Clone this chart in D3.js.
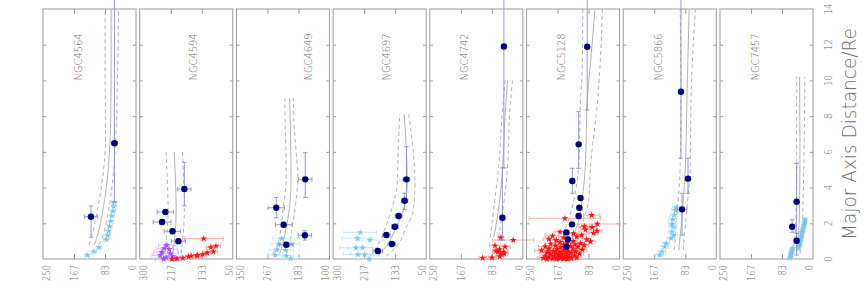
<!DOCTYPE html>
<html>
<head>
<meta charset="utf-8">
<script src="https://cdn.jsdelivr.net/npm/d3@7/dist/d3.min.js"></script>
<style>
  body { margin: 0; background: #fff; }
  svg { display: block; }
  text { font-family: "DejaVu Sans", sans-serif; font-weight: 200; fill: #6e6e6e; }
</style>
</head>
<body>
<script>
// galaxies, one panel each (figure is rotated: distance runs up, sigma runs right-to-left)
var names = ["NGC4564", "NGC4594", "NGC4649", "NGC4697", "NGC4742", "NGC5128", "NGC5866", "NGC7457"];
var sigmaHigh = [250, 300, 350, 300, 250, 250, 250, 250];
var sigmaLow  = [0, 50, 100, 50, 0, 0, 0, 0];
var sigmaLabels = [
  ["250", "167", "83", "0"], ["300", "217", "133", "50"], ["350", "267", "183", "100"], ["300", "217", "133", "50"],
  ["250", "167", "83", "0"], ["250", "167", "83", "0"], ["250", "167", "83", "0"], ["250", "167", "83", "0"]
];
var distTicks = [0, 2, 4, 6, 8, 10, 12, 14];
var distTitle = "Major Axis Distance/Re";

// PN bins: [distance, sigma, sigma error, distance low, distance high]
var pn4564 = [[2.37, 121, 18, 1.22, 2.97], [6.48, 58, 8, 3.2, 16]];
var pn4594 = [[3.92, 180, 18, 2.98, 5.41], [2.63, 231, 22, 2.5, 2.76], [2.07, 240, 24, 1.95, 2.2], [1.55, 212, 22, 1.42, 1.68], [1.0, 196, 19, 0.88, 1.12]];
var pn4649 = [[4.46, 165, 18, 3.45, 5.95], [2.87, 243, 22, 2.31, 3.45], [1.92, 223, 22, 1.8, 2.05], [1.33, 166, 18, 1.06, 1.58], [0.8, 216, 19, 0.68, 0.92]];
var pn4697 = [[4.46, 103, 9, 3.3, 6.29], [3.26, 108, 8, 2.78, 3.68], [2.41, 124, 9, 2.25, 2.56], [1.81, 134, 9, 1.68, 1.94], [1.34, 157, 10, 1.22, 1.46], [0.84, 142, 10, 0.72, 0.96], [0.45, 180, 13, 0.34, 0.56]];
var pn4742 = [[2.31, 55, 6, 1.06, 5.1], [11.9, 51, 6, 5.1, 16]];
var pn5128 = [[11.89, 87, 6, 8.34, 16], [6.42, 110, 6, 5.08, 8.25], [4.37, 127, 6, 3.68, 5.08], [3.42, 105, 6, 3.3, 3.55], [2.87, 108, 6, 2.75, 3.0],
              [2.41, 110, 6, 2.3, 2.52], [1.94, 128, 6, 1.82, 2.05], [1.49, 143, 6, 1.38, 1.6], [1.1, 139, 6, 0.98, 1.22], [0.69, 143, 6, 0.58, 0.8]];
var pn5866 = [[9.37, 95, 6, 5.64, 16], [4.5, 76, 6, 3.68, 5.64], [2.78, 92, 13, 1.34, 3.68]];
var pn7457 = [[3.21, 44, 5, 0.88, 5.36], [1.81, 56, 6, 1.5, 2.2], [1.02, 44, 5, 0.22, 1.44]];

// stellar long-slit kinematics (light blue): [distance, sigma, error]
var stars4564 = [[0.22, 131, 7], [0.41, 113, 7], [0.65, 100, 7], [1.08, 80, 7], [1.32, 76, 7], [1.56, 74, 7], [1.83, 71, 7], [2.12, 68, 7], [2.42, 65, 7], [2.68, 62, 7], [2.95, 60, 7], [3.18, 59, 7]];
var stars4649 = [[1.15, 228, 24], [0.85, 236, 22], [0.52, 241, 22], [0.5, 218, 22], [0.22, 246, 20], [0.18, 216, 20], [0.02, 204, 20], [0.84, 203, 22]];
var stars4697 = [[1.49, 227, 44], [1.16, 235, 40], [1.06, 201, 35], [0.63, 239, 44], [0.63, 221, 40], [0.26, 233, 40], [0.26, 215, 38], [0.0, 203, 35]];
var stars5866 = [[0.22, 152, 10], [0.41, 146, 10], [0.69, 139, 10], [0.88, 135, 10], [1.16, 122, 10], [1.34, 115, 10], [1.53, 119, 10], [1.81, 116, 10], [1.96, 119, 10], [2.22, 117, 10], [2.46, 113, 10], [2.74, 110, 10], [2.89, 108, 10]];
var stars7457 = [[0.05, 62, 4], [0.12, 61, 4], [0.2, 60, 4], [0.28, 59, 4], [0.36, 58, 4], [0.44, 57, 4], [0.52, 56, 4], [0.6, 55, 4],
                 [0.6, 40, 4], [0.7, 38, 4], [0.8, 36.5, 4], [0.9, 35.5, 4], [1.0, 35, 4], [1.1, 33, 4], [1.2, 32, 4], [1.3, 30.5, 4], [1.4, 30, 4],
                 [1.5, 29, 4], [1.6, 28, 4], [1.7, 27, 4], [1.8, 25.5, 4], [1.9, 24.5, 4], [2.0, 23, 4], [2.1, 22, 4], [2.2, 21.5, 4]];

// second stellar set in NGC4594 (purple): [distance, sigma, error]
var purple4594 = [[0.78, 227, 22], [0.6, 234, 22], [0.55, 221, 22], [0.38, 240, 22], [0.32, 218, 22], [0.2, 245, 22], [0.14, 211, 22], [0.08, 229, 22], [0.02, 205, 22], [0.0, 236, 22]];

// red stars: [distance, sigma, error]
var red4594 = [[1.14, 128, 52], [0.65, 109, 12], [0.73, 95, 12], [0.41, 102, 12], [0.35, 119, 10], [0.26, 131, 10], [0.22, 145, 10], [0.17, 146, 10],
               [0.17, 162, 8], [0.13, 169, 8], [0.06, 184, 8], [0.02, 200, 8], [0.0, 213, 8]];
var red4742 = [[1.19, 59, 8], [1.06, 26, 55], [0.75, 75, 14], [0.69, 48, 14], [0.54, 63, 12], [0.41, 67, 12], [0.39, 52, 12], [0.26, 59, 12],
               [0.07, 83, 10], [0.06, 108, 10], [0.45, 72, 10], [0.3, 50, 10], [0.15, 62, 10]];
var red5128 = [[2.28, 147, 96], [2.45, 75, 22], [1.96, 60, 62], [1.78, 74, 14], [1.58, 61, 14], [1.64, 92, 12], [1.82, 95, 14], [1.45, 70, 12],
               [1.35, 102, 12], [1.44, 124, 14], [1.52, 160, 16], [1.25, 115, 12], [1.2, 150, 14], [1.1, 88, 12], [1.05, 170, 18], [1.0, 125, 12],
               [0.98, 78, 12], [1.12, 190, 16], [1.3, 180, 20], [0.95, 160, 14], [0.9, 140, 12], [0.88, 105, 12], [0.85, 185, 16], [0.82, 120, 12],
               [0.8, 150, 12], [0.78, 95, 12], [0.75, 172, 14], [0.72, 132, 12], [0.7, 200, 18], [0.68, 112, 12], [0.65, 158, 12], [0.62, 145, 12],
               [0.6, 190, 16], [0.58, 125, 12], [0.55, 168, 12], [0.52, 100, 12], [0.5, 150, 12], [0.48, 210, 18], [0.46, 138, 12], [0.44, 178, 14],
               [0.42, 118, 12], [0.4, 160, 12], [0.38, 145, 12], [0.36, 195, 16], [0.34, 130, 12], [0.32, 170, 14], [0.3, 108, 12], [0.28, 155, 12],
               [0.26, 185, 14], [0.24, 140, 12], [0.22, 165, 12], [0.2, 122, 12], [0.18, 200, 16], [0.16, 148, 12], [0.14, 175, 14], [0.12, 135, 12],
               [0.1, 158, 12], [0.09, 190, 14], [0.08, 115, 12], [0.07, 168, 12], [0.06, 145, 12], [0.05, 205, 16], [0.04, 130, 12], [0.03, 160, 12],
               [0.02, 180, 14], [0.01, 150, 12], [0.0, 140, 12], [0.0, 170, 14], [0.0, 195, 14], [0.41, 191, 20]];

// dynamical model: [distance, mean sigma, upper sigma, lower sigma]
var model4564 = [[0.8, 112, 126, 98], [1.5, 101, 116, 86], [2.5, 91, 106, 76], [3.5, 83, 97, 68], [4.5, 77, 90, 62], [5.5, 73, 85, 58], [6.5, 70, 82, 55], [8, 68, 82, 52], [10, 67, 83, 50], [12, 67, 83, 48], [14, 67, 83, 47]];
var model4594 = [[0.3, 211, 233, 189], [1, 207, 229, 185], [2, 203, 225, 181], [3, 202, 224, 180], [4, 203, 225, 181], [5, 205, 227, 183], [6, 207, 229, 185]];
var model4649 = [[0.3, 234, 252, 216], [0.9, 225, 238, 207], [1.8, 216, 230, 200], [2.9, 207, 224, 192], [4.6, 203, 216, 185], [6.1, 204, 217, 190], [7.5, 205, 219, 195], [9.0, 207, 220, 197]];
var model4697 = [[0.15, 180, 200, 157], [0.7, 157, 182, 130], [1.8, 130, 159, 103], [2.7, 112, 144, 85], [4.2, 101, 128, 80], [6.1, 103, 125, 85], [8.1, 109, 121, 97]];
var model4742 = [[1.2, 78, 88, 65], [2.7, 66, 79, 54], [5.2, 54, 65, 41], [8.0, 48, 56, 36], [10.0, 41, 48, 28]];
var model5128 = [[1.0, 132, 159, 119], [2.0, 112, 140, 100], [3.3, 101, 123, 83], [5.2, 92, 110, 78], [8.9, 87, 105, 59], [11, 78, 100, 52], [14, 66, 99, 46]];
var model5866 = [[0.5, 101, 113, 89], [2.4, 92, 106, 81], [5.2, 83, 97, 70], [8.9, 79, 95, 68], [14, 73, 97, 56]];
var model7457 = [[0.3, 45, 55, 35], [1, 40, 50, 30], [3, 36, 45, 27], [6, 35, 44, 24], [10.2, 36, 44, 22]];

var pnData = [pn4564, pn4594, pn4649, pn4697, pn4742, pn5128, pn5866, pn7457];
var starData = [stars4564, [], stars4649, stars4697, [], [], stars5866, stars7457];
var purpleData = [[], purple4594, [], [], [], [], [], []];
var redData = [[], red4594, [], [], red4742, red5128, [], []];
var modelData = [model4564, model4594, model4649, model4697, model4742, model5128, model5866, model7457];

var W = 866, H = 289;
var svg = d3.select("body").append("svg").attr("width", W).attr("height", H);

var panelScale = d3.scaleBand().domain(names).range([43, 813]).paddingInner(0.038);
var y = d3.scaleLinear().domain([0, 14]).range([259, 9]);

var navy = "#00007f", navyErr = "#8c8ccc";
var blue = "#7cc6ee", blueErr = "#c4e6f8";
var red = "#ff1010", redErr = "#ffa0a0";
var purple = "#a64dff", purpleErr = "#dab8ff";
var modelCol = "#aaaaaa";

var star = d3.symbol().type(d3.symbolStar).size(15);

function hbar(g, x, d, s, e, col) {
  var yy = y(d);
  g.append("line").attr("x1", x(s - e)).attr("x2", x(s + e)).attr("y1", yy).attr("y2", yy).attr("stroke", col).attr("stroke-width", 0.9);
  [s - e, s + e].forEach(function(v) {
    g.append("line").attr("x1", x(v)).attr("x2", x(v)).attr("y1", yy - 2.3).attr("y2", yy + 2.3).attr("stroke", col).attr("stroke-width", 0.9);
  });
}

function vbar(g, x, s, lo, hi, col) {
  var xx = x(s);
  g.append("line").attr("x1", xx).attr("x2", xx).attr("y1", y(lo)).attr("y2", y(hi)).attr("stroke", col).attr("stroke-width", 0.9);
  [lo, hi].forEach(function(v) {
    g.append("line").attr("x1", xx - 2.3).attr("x2", xx + 2.3).attr("y1", y(v)).attr("y2", y(v)).attr("stroke", col).attr("stroke-width", 0.9);
  });
}

function starSet(g, x, data, col, errCol) {
  data.forEach(function(p) { hbar(g, x, p[0], p[1], p[2], errCol); });
  g.selectAll(null).data(data).enter().append("path")
    .attr("d", star)
    .attr("transform", function(p) { return "translate(" + x(p[1]) + "," + y(p[0]) + ")"; })
    .attr("fill", col);
}

names.forEach(function(name, i) {
  var left = panelScale(name), bw = panelScale.bandwidth();
  var x = d3.scaleLinear().domain([sigmaHigh[i], sigmaLow[i]]).range([left, left + bw]);
  var g = svg.append("g");

  // border
  g.append("rect").attr("x", left).attr("y", y(14)).attr("width", bw).attr("height", y(0) - y(14))
    .attr("fill", "none").attr("stroke", "#999");

  // inward ticks
  var third = (sigmaHigh[i] - sigmaLow[i]) / 3;
  var inner = [sigmaHigh[i] - third, sigmaHigh[i] - 2 * third];
  g.append("g").attr("transform", "translate(0," + y(0) + ")")
    .call(d3.axisBottom(x).tickValues(inner).tickSize(-5).tickFormat(""));
  g.append("g").attr("transform", "translate(0," + y(14) + ")")
    .call(d3.axisTop(x).tickValues(inner).tickSize(-5).tickFormat(""));
  g.append("g").attr("transform", "translate(" + left + ",0)")
    .call(d3.axisLeft(y).tickValues(distTicks.slice(1, -1)).tickSize(-3).tickFormat(""));
  g.append("g").attr("transform", "translate(" + (left + bw) + ",0)")
    .call(d3.axisRight(y).tickValues(distTicks.slice(1, -1)).tickSize(-3).tickFormat(""));
  g.selectAll(".domain").remove();
  g.selectAll(".tick line").attr("stroke", "#999");

  // sigma tick labels, rotated
  sigmaLabels[i].forEach(function(lab, k) {
    var xx = x(sigmaHigh[i] - k * third);
    if (k === 0) xx += 3.5;
    if (k === 3) xx -= 4;
    g.append("text")
      .attr("transform", "translate(" + xx + ",265) rotate(-90)")
      .attr("text-anchor", "end").attr("dy", "0.36em")
      .attr("font-size", 11).attr("textLength", lab.length * 5.3).attr("lengthAdjust", "spacingAndGlyphs")
      .text(lab);
  });

  // galaxy name
  g.append("text")
    .attr("transform", "translate(" + x(157) + "," + y(10) + ") rotate(-90)")
    .attr("dy", "0.36em").attr("font-size", 11)
    .attr("textLength", 47).attr("lengthAdjust", "spacingAndGlyphs")
    .text(name);

  // model curves
  var m = modelData[i];
  [[2, "4,3"], [3, "4,3"], [1, null]].forEach(function(c) {
    var line = d3.line().x(function(r) { return x(r[c[0]]); }).y(function(r) { return y(r[0]); }).curve(d3.curveMonotoneY);
    g.append("path").attr("d", line(m)).attr("fill", "none").attr("stroke", modelCol)
      .attr("stroke-width", 0.9).attr("stroke-dasharray", c[1]);
  });

  starSet(g, x, starData[i], blue, blueErr);
  starSet(g, x, purpleData[i], purple, purpleErr);
  starSet(g, x, redData[i], red, redErr);

  // PN bins
  pnData[i].forEach(function(p) {
    vbar(g, x, p[1], p[3], p[4], navyErr);
    hbar(g, x, p[0], p[1], p[2], navyErr);
  });
  g.selectAll(null).data(pnData[i]).enter().append("circle")
    .attr("cx", function(p) { return x(p[1]); })
    .attr("cy", function(p) { return y(p[0]); })
    .attr("r", 3.2).attr("fill", navy);
});

// right-hand distance axis labels and title
distTicks.forEach(function(t) {
  svg.append("text")
    .attr("transform", "translate(828," + y(t) + ") rotate(-90)")
    .attr("text-anchor", "middle").attr("dy", "0.36em").attr("font-size", 11)
    .attr("textLength", String(t).length * 5.6).attr("lengthAdjust", "spacingAndGlyphs")
    .text(t);
});
svg.append("text")
  .attr("transform", "translate(849," + 134 + ") rotate(-90)")
  .attr("text-anchor", "middle").attr("dy", "0.36em").attr("font-size", 19)
  .attr("textLength", 212).attr("lengthAdjust", "spacingAndGlyphs")
  .text(distTitle);
</script>
</body>
</html>
